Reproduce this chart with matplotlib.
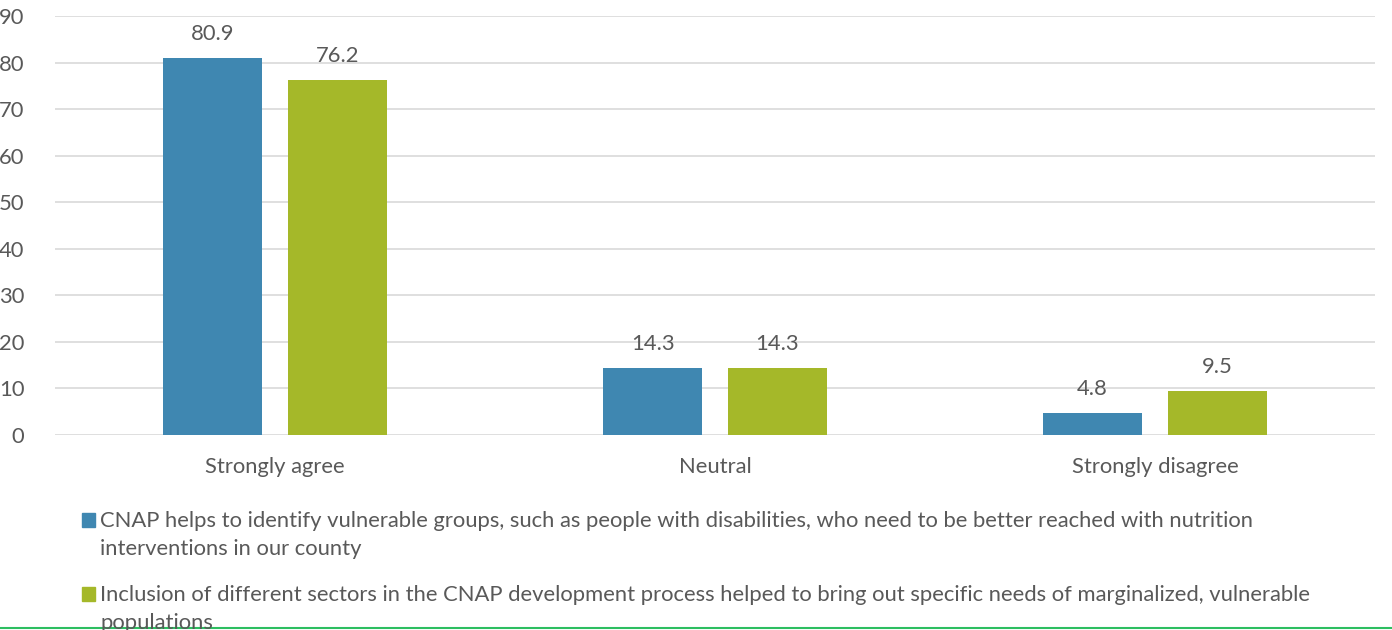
import matplotlib
matplotlib.use("Agg")
import matplotlib.pyplot as plt
import numpy as np
from matplotlib.patches import Rectangle
from matplotlib.lines import Line2D

categories = ["Strongly agree", "Neutral", "Strongly disagree"]
series1_name = ("CNAP helps to identify vulnerable groups, such as people with disabilities, who need to be better reached with nutrition\n"
                "interventions in our county")
series2_name = ("Inclusion of different sectors in the CNAP development process helped to bring out specific needs of marginalized, vulnerable\n"
                "populations")
series1 = [80.9, 14.3, 4.8]
series2 = [76.2, 14.3, 9.5]
yticks = [0, 10, 20, 30, 40, 50, 60, 70, 80, 90]

BLUE = "#3F87B1"
GREEN = "#A5B829"
TXT = "#595959"
GRID = "#D9D9D9"
FS = 15.8

plt.rcParams['font.family'] = ['Lato', 'DejaVu Sans']

W, H = 1392, 630
fig = plt.figure(figsize=(W / 100, H / 100), dpi=100)
ax = fig.add_axes([55 / W, (H - 435) / H, 1320 / W, 419 / H])

x = np.arange(len(categories))
bw = 0.223
off = 0.142
b1 = ax.bar(x - off, series1, bw, color=BLUE, zorder=3)
b2 = ax.bar(x + off, series2, bw, color=GREEN, zorder=3)
for bars, vals in ((b1, series1), (b2, series2)):
    for r, v in zip(bars, vals):
        ax.text(r.get_x() + r.get_width() / 2, v + 3.0, f"{v:.1f}", ha="center", va="bottom",
                fontsize=FS, color=TXT)

ax.set_xlim(-0.5, 2.5)
ax.set_ylim(0, 90)
ax.set_yticks(yticks)
ax.set_xticks(x)
ax.set_xticklabels(categories)
ax.tick_params(axis="both", length=0, labelsize=FS, labelcolor=TXT)
ax.tick_params(axis="y", pad=22)
ax.tick_params(axis="x", pad=16)
ax.grid(axis="y", color=GRID, linewidth=1.2, zorder=0)
ax.set_axisbelow(True)
for s in ax.spines.values():
    s.set_visible(False)

# legend
items = [(BLUE, series1_name, 520), (GREEN, series2_name, 594)]
for col, name, yc in items:
    fig.patches.append(Rectangle((82 / W, 1 - (yc + 7) / H), 13 / W, 14 / H,
                                 transform=fig.transFigure, color=col))
    fig.text(100 / W, 1 - (yc - 9) / H, name, fontsize=FS, color=TXT, va="top", ha="left",
             linespacing=1.47)

fig.add_artist(Line2D([0, 1], [1 - 628 / H, 1 - 628 / H], transform=fig.transFigure,
                      color="#2DBE60", linewidth=1.5))

fig.savefig("out.png", dpi=100)
